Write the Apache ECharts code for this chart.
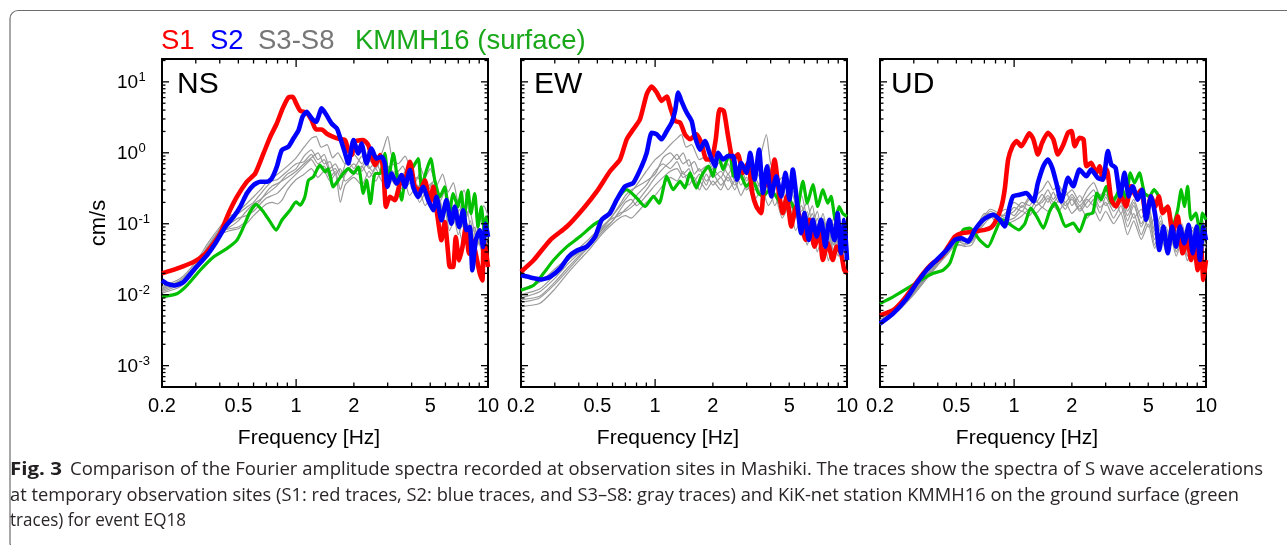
<!DOCTYPE html>
<html>
<head>
<meta charset="utf-8">
<title>Fourier amplitude spectra - Mashiki</title>
<script src="https://cdn.jsdelivr.net/npm/echarts@6/dist/echarts.min.js"></script>
<style>
  html, body { margin: 0; padding: 0; background: #fff; }
  #chart { width: 1287px; height: 545px; }
</style>
</head>
<body>
<div id="chart"></div>
<script>
// Spectra as [frequency (Hz), amplitude (cm/s)]

// ---- NS component ----
const nsS1 = [[0.2,0.02],[0.239,0.0233],[0.292,0.0289],[0.33,0.0359],[0.371,0.0525],[0.402,0.0727],[0.444,0.139],[0.491,0.239],[0.553,0.39],[0.612,0.511],[0.676,0.98],[0.733,1.68],[0.793,2.59],[0.851,4.23],[0.912,6.04],[0.96,6.17],[1.0,4.97],[1.05,3.92],[1.135,3.67],[1.205,2.89],[1.27,2.13],[1.36,2.13],[1.44,1.87],[1.56,1.68],[1.69,1.56],[1.8,1.51],[1.87,1.09],[1.95,0.93],[2.02,1.43],[2.24,1.51],[2.38,1.28],[2.47,0.88],[2.58,0.67],[2.74,0.93],[2.85,0.57],[2.94,0.173],[3.08,0.239],[3.27,0.215],[3.48,0.369],[3.69,0.411],[3.92,0.746],[4.16,0.331],[4.42,0.297],[4.69,0.411],[4.98,0.193],[5.18,0.331],[5.43,0.139],[5.72,0.0585],[5.95,0.106],[6.2,0.0379],[6.32,0.0246],[6.58,0.0246],[6.79,0.0652],[7.07,0.0305],[7.36,0.0471],[7.66,0.0902],[7.96,0.0379],[8.29,0.0585],[8.63,0.0379],[9.06,0.02],[9.35,0.0159],[9.49,0.0585],[9.8,0.0379],[10,0.0246]];
const nsS2 = [[0.2,0.0159],[0.212,0.0143],[0.234,0.0135],[0.259,0.0151],[0.292,0.0221],[0.343,0.0359],[0.379,0.0525],[0.427,0.0902],[0.472,0.125],[0.511,0.173],[0.553,0.267],[0.599,0.35],[0.649,0.39],[0.703,0.39],[0.746,0.434],[0.793,0.634],[0.842,1.09],[0.912,1.22],[0.968,1.59],[1.03,2.09],[1.08,3.22],[1.135,3.79],[1.205,3.05],[1.27,2.74],[1.36,4.23],[1.44,3.4],[1.53,2.59],[1.63,2.21],[1.69,1.68],[1.8,0.98],[1.87,0.707],[1.99,1.51],[2.11,0.98],[2.19,1.35],[2.33,0.707],[2.47,1.15],[2.62,0.83],[2.79,0.88],[2.9,0.707],[2.99,0.331],[3.14,0.511],[3.34,0.369],[3.54,0.484],[3.69,0.331],[3.92,0.57],[4.07,0.331],[4.33,0.239],[4.59,0.331],[4.88,0.215],[5.18,0.155],[5.39,0.239],[5.72,0.112],[6.07,0.215],[6.44,0.1],[6.71,0.173],[7.07,0.0902],[7.42,0.155],[7.72,0.081],[8.04,0.0902],[8.29,0.0221],[8.63,0.0585],[9.06,0.081],[9.42,0.0471],[9.73,0.1],[10,0.0652]];
const nsKMMH16 = [[0.2,0.0093],[0.239,0.0103],[0.27,0.0135],[0.316,0.0221],[0.371,0.034],[0.435,0.0446],[0.491,0.0585],[0.532,0.0902],[0.575,0.147],[0.619,0.188],[0.676,0.147],[0.733,0.106],[0.787,0.081],[0.842,0.112],[0.929,0.155],[1.0,0.203],[1.05,0.183],[1.11,0.239],[1.16,0.411],[1.23,0.458],[1.33,0.67],[1.42,0.54],[1.47,0.6],[1.56,0.331],[1.66,0.411],[1.76,0.511],[1.87,0.6],[1.99,0.511],[2.11,0.634],[2.24,0.267],[2.33,0.411],[2.44,0.193],[2.58,0.511],[2.74,0.511],[2.9,0.98],[3.02,0.411],[3.21,0.98],[3.38,0.411],[3.54,0.215],[3.73,0.458],[4.07,0.634],[4.33,0.83],[4.5,0.331],[4.78,0.57],[5.03,0.83],[5.28,0.411],[5.61,0.239],[5.95,0.331],[6.27,0.125],[6.58,0.267],[6.98,0.173],[7.26,0.281],[7.5,0.112],[7.87,0.297],[8.15,0.139],[8.53,0.267],[8.87,0.0902],[9.23,0.173],[9.61,0.0727],[9.8,0.125],[10,0.0652]];
const nsS3 = [[0.2,0.012],[0.25,0.016],[0.3,0.027],[0.35,0.05],[0.4,0.085],[0.45,0.12],[0.5,0.15],[0.55,0.19],[0.6,0.24],[0.65,0.3],[0.7,0.38],[0.8,0.5],[0.9,0.65],[1.0,0.85],[1.1,1.2],[1.2,1.6],[1.27,1.7],[1.35,1.2],[1.45,1.3],[1.55,0.85],[1.65,1.0],[1.8,0.7],[2.0,0.95],[2.2,0.7],[2.4,1.1],[2.6,0.8],[2.8,1.0],[3.0,1.7],[3.15,0.9],[3.4,0.7],[3.7,0.9],[4.0,0.55],[4.3,0.75],[4.7,0.45],[5.0,0.6],[5.4,0.35],[5.8,0.5],[6.2,0.28],[6.6,0.38],[7.0,0.2],[7.5,0.3],[8.0,0.15],[8.5,0.22],[9.0,0.12],[9.5,0.18],[10,0.13]];
const nsS4 = [[0.2,0.011],[0.25,0.014],[0.3,0.024],[0.35,0.045],[0.4,0.075],[0.45,0.09],[0.5,0.11],[0.55,0.15],[0.6,0.19],[0.65,0.22],[0.7,0.26],[0.75,0.3],[0.8,0.35],[0.9,0.5],[1.0,0.6],[1.1,0.9],[1.2,1.1],[1.3,0.8],[1.4,0.95],[1.5,0.6],[1.6,0.7],[1.75,0.45],[1.9,0.6],[2.1,0.5],[2.3,0.75],[2.5,0.55],[2.7,0.8],[2.9,0.55],[3.2,0.7],[3.5,0.45],[3.8,0.6],[4.1,0.35],[4.4,0.5],[4.8,0.28],[5.2,0.4],[5.6,0.2],[6.0,0.3],[6.5,0.15],[7.0,0.22],[7.5,0.1],[8.0,0.16],[8.6,0.07],[9.2,0.12],[9.6,0.06],[10,0.1]];
const nsS5 = [[0.2,0.0105],[0.25,0.013],[0.3,0.022],[0.35,0.04],[0.4,0.07],[0.45,0.08],[0.5,0.085],[0.55,0.1],[0.6,0.13],[0.65,0.16],[0.7,0.19],[0.75,0.2],[0.8,0.19],[0.85,0.22],[0.9,0.3],[1.0,0.42],[1.1,0.5],[1.2,0.6],[1.3,0.45],[1.4,0.55],[1.5,0.4],[1.6,0.5],[1.7,0.2],[1.8,0.35],[2.0,0.45],[2.2,0.35],[2.4,0.55],[2.6,0.4],[2.8,0.6],[3.0,0.35],[3.3,0.45],[3.6,0.3],[4.0,0.4],[4.4,0.2],[4.8,0.3],[5.2,0.15],[5.6,0.22],[6.0,0.1],[6.5,0.16],[7.0,0.07],[7.5,0.12],[8.0,0.05],[8.5,0.09],[9.0,0.05],[9.5,0.08],[10,0.07]];
const nsS6 = [[0.2,0.013],[0.25,0.017],[0.3,0.029],[0.35,0.055],[0.4,0.09],[0.45,0.13],[0.5,0.14],[0.55,0.17],[0.6,0.2],[0.65,0.26],[0.7,0.33],[0.75,0.4],[0.8,0.42],[0.9,0.55],[1.0,0.7],[1.1,0.75],[1.2,0.95],[1.3,0.7],[1.4,0.8],[1.5,0.55],[1.6,0.6],[1.7,0.45],[1.85,0.8],[2.0,0.6],[2.2,0.9],[2.4,0.6],[2.6,0.75],[2.8,0.5],[3.0,0.65],[3.3,0.5],[3.6,0.65],[3.9,0.4],[4.3,0.45],[4.7,0.3],[5.1,0.38],[5.5,0.22],[5.9,0.3],[6.3,0.13],[6.8,0.2],[7.3,0.09],[7.8,0.15],[8.3,0.06],[8.8,0.1],[9.3,0.05],[9.7,0.09],[10,0.06]];
const nsS7 = [[0.2,0.0115],[0.25,0.015],[0.3,0.025],[0.35,0.048],[0.4,0.08],[0.45,0.1],[0.5,0.12],[0.55,0.13],[0.6,0.15],[0.65,0.19],[0.7,0.23],[0.75,0.25],[0.8,0.27],[0.9,0.38],[1.0,0.5],[1.1,0.65],[1.2,0.8],[1.3,0.6],[1.4,0.65],[1.5,0.45],[1.6,0.55],[1.7,0.3],[1.8,0.5],[2.0,0.7],[2.2,0.55],[2.4,0.8],[2.6,0.6],[2.8,0.85],[3.0,0.45],[3.3,0.55],[3.6,0.4],[3.9,0.5],[4.2,0.3],[4.6,0.4],[5.0,0.22],[5.4,0.3],[5.8,0.15],[6.2,0.22],[6.6,0.1],[7.1,0.16],[7.6,0.07],[8.1,0.11],[8.6,0.04],[9.1,0.08],[9.6,0.045],[10,0.07]];
const nsS8 = [[0.2,0.0125],[0.25,0.016],[0.3,0.026],[0.35,0.05],[0.4,0.078],[0.45,0.085],[0.5,0.09],[0.55,0.11],[0.6,0.17],[0.65,0.21],[0.7,0.28],[0.75,0.34],[0.8,0.37],[0.9,0.45],[1.0,0.55],[1.1,0.7],[1.2,0.85],[1.3,1.0],[1.4,0.7],[1.5,0.75],[1.6,0.5],[1.7,0.6],[1.8,0.4],[2.0,0.5],[2.2,0.65],[2.4,0.45],[2.6,0.6],[2.8,0.4],[3.0,0.5],[3.3,0.35],[3.6,0.5],[3.9,0.25],[4.3,0.35],[4.7,0.18],[5.1,0.25],[5.5,0.12],[5.9,0.18],[6.3,0.08],[6.8,0.13],[7.3,0.06],[7.8,0.1],[8.3,0.035],[8.8,0.07],[9.3,0.04],[9.7,0.06],[10,0.05]];

// ---- EW component ----
const ewS1 = [[0.2,0.021],[0.233,0.0308],[0.284,0.059],[0.347,0.0914],[0.424,0.166],[0.497,0.286],[0.582,0.55],[0.656,0.805],[0.711,1.55],[0.769,2.14],[0.834,2.97],[0.904,6.71],[0.96,8.61],[1.02,7.08],[1.08,5.4],[1.15,6.22],[1.2,4.34],[1.27,2.81],[1.35,2.66],[1.43,1.82],[1.52,1.55],[1.64,1.82],[1.74,1.39],[1.85,0.805],[1.96,0.805],[2.07,1.55],[2.17,4.11],[2.28,3.89],[2.4,1.72],[2.55,0.805],[2.7,0.95],[2.87,0.521],[3.05,0.721],[3.21,0.271],[3.37,0.175],[3.57,0.141],[3.72,0.376],[3.95,0.337],[4.19,0.805],[4.42,0.271],[4.63,0.141],[4.86,0.243],[5.12,0.0914],[5.44,0.175],[5.77,0.102],[6.08,0.059],[6.37,0.114],[6.76,0.0476],[7.18,0.0737],[7.48,0.0308],[7.94,0.053],[8.43,0.0308],[8.83,0.0476],[9.31,0.0384],[9.68,0.0222],[10,0.02]];
const ewS2 = [[0.2,0.0189],[0.224,0.0175],[0.257,0.0164],[0.284,0.0179],[0.32,0.0235],[0.354,0.0343],[0.391,0.0418],[0.441,0.0476],[0.487,0.0659],[0.527,0.114],[0.582,0.141],[0.631,0.218],[0.697,0.337],[0.769,0.376],[0.851,0.647],[0.904,1.0],[0.96,1.92],[1.02,1.82],[1.08,1.55],[1.15,2.03],[1.22,2.66],[1.27,3.89],[1.32,7.08],[1.37,5.4],[1.46,3.69],[1.55,2.81],[1.61,1.72],[1.71,1.11],[1.82,1.46],[1.93,0.95],[2.05,0.647],[2.13,1.0],[2.26,0.805],[2.4,0.897],[2.55,0.897],[2.67,0.419],[2.81,0.721],[2.99,0.521],[3.13,1.0],[3.3,0.419],[3.48,1.11],[3.65,0.271],[3.83,0.647],[4.03,0.243],[4.28,0.467],[4.54,0.243],[4.78,0.521],[5.01,0.218],[5.22,0.58],[5.47,0.218],[5.77,0.0737],[6.0,0.141],[6.32,0.059],[6.64,0.114],[6.95,0.0659],[7.33,0.114],[7.71,0.0476],[8.09,0.114],[8.59,0.059],[8.93,0.141],[9.31,0.0384],[9.68,0.114],[10,0.0308]];
const ewKMMH16 = [[0.2,0.0116],[0.233,0.0136],[0.262,0.02],[0.296,0.0308],[0.347,0.0476],[0.406,0.0659],[0.477,0.0964],[0.56,0.127],[0.631,0.218],[0.711,0.302],[0.802,0.23],[0.886,0.175],[0.98,0.243],[1.05,0.195],[1.15,0.467],[1.24,0.302],[1.35,0.397],[1.43,0.319],[1.52,0.521],[1.64,0.319],[1.74,0.467],[1.9,0.647],[2.0,0.467],[2.13,0.947],[2.26,0.58],[2.45,1.0],[2.57,0.467],[2.75,0.521],[2.99,0.337],[3.21,0.419],[3.45,0.271],[3.65,0.243],[3.95,0.302],[4.28,0.243],[4.63,0.175],[5.01,0.218],[5.44,0.141],[5.89,0.397],[6.21,0.195],[6.64,0.356],[7.04,0.175],[7.48,0.302],[7.94,0.195],[8.26,0.243],[8.69,0.114],[9.1,0.175],[9.48,0.141],[10,0.127]];
const ewS3 = [[0.2,0.012],[0.25,0.015],[0.3,0.023],[0.35,0.033],[0.4,0.045],[0.45,0.06],[0.5,0.08],[0.55,0.1],[0.6,0.13],[0.65,0.17],[0.7,0.22],[0.75,0.28],[0.8,0.35],[0.9,0.55],[1.0,0.8],[1.1,1.0],[1.2,1.3],[1.3,1.6],[1.37,1.8],[1.45,1.2],[1.55,1.3],[1.7,0.8],[1.85,0.9],[2.0,0.6],[2.2,0.75],[2.4,0.5],[2.6,0.7],[2.8,0.45],[3.0,0.6],[3.2,0.4],[3.5,0.8],[3.8,1.8],[4.0,0.7],[4.3,0.5],[4.6,0.3],[5.0,0.35],[5.4,0.2],[5.8,0.25],[6.2,0.12],[6.6,0.18],[7.0,0.08],[7.5,0.14],[8.0,0.06],[8.5,0.12],[9.0,0.05],[9.5,0.1],[10,0.07]];
const ewS4 = [[0.2,0.0085],[0.25,0.0095],[0.3,0.015],[0.35,0.024],[0.4,0.035],[0.45,0.05],[0.5,0.07],[0.55,0.09],[0.6,0.11],[0.65,0.14],[0.7,0.15],[0.75,0.17],[0.8,0.2],[0.9,0.3],[1.0,0.45],[1.1,0.6],[1.2,0.75],[1.3,0.95],[1.4,0.7],[1.5,0.8],[1.6,0.5],[1.7,0.6],[1.85,0.4],[2.0,0.5],[2.2,0.35],[2.4,0.45],[2.6,0.3],[2.8,0.5],[3.0,0.3],[3.3,0.45],[3.6,0.3],[3.9,0.5],[4.2,0.25],[4.6,0.35],[5.0,0.15],[5.4,0.22],[5.8,0.07],[6.2,0.12],[6.6,0.05],[7.0,0.1],[7.5,0.04],[8.0,0.08],[8.5,0.035],[9.0,0.07],[9.5,0.04],[10,0.06]];
const ewS5 = [[0.2,0.0068],[0.25,0.0075],[0.3,0.012],[0.35,0.02],[0.4,0.03],[0.45,0.042],[0.5,0.06],[0.55,0.08],[0.6,0.1],[0.65,0.12],[0.7,0.13],[0.75,0.12],[0.8,0.14],[0.9,0.2],[1.0,0.25],[1.1,0.35],[1.2,0.45],[1.3,0.4],[1.4,0.55],[1.5,0.35],[1.6,0.45],[1.7,0.3],[1.85,0.5],[2.0,0.35],[2.2,0.45],[2.4,0.3],[2.6,0.4],[2.8,0.25],[3.0,0.35],[3.3,0.22],[3.6,0.3],[3.9,0.18],[4.2,0.25],[4.6,0.12],[5.0,0.18],[5.4,0.08],[5.8,0.12],[6.2,0.05],[6.6,0.09],[7.0,0.04],[7.5,0.07],[8.0,0.03],[8.5,0.06],[9.0,0.035],[9.5,0.05],[10,0.04]];
const ewS6 = [[0.2,0.01],[0.25,0.012],[0.3,0.019],[0.35,0.03],[0.4,0.04],[0.45,0.055],[0.5,0.075],[0.55,0.1],[0.6,0.12],[0.65,0.13],[0.7,0.16],[0.75,0.19],[0.8,0.25],[0.9,0.35],[1.0,0.55],[1.1,0.7],[1.2,0.6],[1.3,0.75],[1.4,0.5],[1.5,0.6],[1.6,0.4],[1.7,0.5],[1.85,0.35],[2.0,0.6],[2.2,0.45],[2.4,0.7],[2.6,0.4],[2.8,0.6],[3.0,0.4],[3.3,0.6],[3.6,0.4],[3.9,0.7],[4.2,0.35],[4.6,0.45],[5.0,0.25],[5.4,0.3],[5.8,0.15],[6.2,0.2],[6.6,0.1],[7.0,0.15],[7.5,0.06],[8.0,0.12],[8.5,0.05],[9.0,0.1],[9.5,0.06],[10,0.08]];
const ewS7 = [[0.2,0.009],[0.25,0.011],[0.3,0.017],[0.35,0.027],[0.4,0.038],[0.45,0.052],[0.5,0.072],[0.55,0.095],[0.6,0.13],[0.65,0.18],[0.7,0.25],[0.75,0.3],[0.8,0.33],[0.9,0.4],[1.0,0.5],[1.1,0.85],[1.2,1.0],[1.3,0.8],[1.4,1.0],[1.5,0.65],[1.6,0.75],[1.7,0.55],[1.85,0.65],[2.0,0.45],[2.2,0.55],[2.4,0.4],[2.6,0.55],[2.8,0.35],[3.0,0.45],[3.3,0.3],[3.6,0.4],[3.9,0.3],[4.2,0.4],[4.6,0.2],[5.0,0.28],[5.4,0.12],[5.8,0.18],[6.2,0.1],[6.6,0.14],[7.0,0.07],[7.5,0.12],[8.0,0.05],[8.5,0.1],[9.0,0.06],[9.5,0.09],[10,0.05]];
const ewS8 = [[0.2,0.0078],[0.25,0.009],[0.3,0.014],[0.35,0.022],[0.4,0.033],[0.45,0.047],[0.5,0.065],[0.55,0.085],[0.6,0.11],[0.65,0.15],[0.7,0.2],[0.75,0.22],[0.8,0.18],[0.9,0.25],[1.0,0.35],[1.1,0.45],[1.2,0.55],[1.3,0.6],[1.4,0.45],[1.5,0.5],[1.6,0.35],[1.7,0.4],[1.85,0.3],[2.0,0.4],[2.2,0.3],[2.4,0.5],[2.6,0.35],[2.8,0.45],[3.0,0.3],[3.3,0.4],[3.6,0.25],[3.9,0.35],[4.2,0.18],[4.6,0.28],[5.0,0.12],[5.4,0.2],[5.8,0.1],[6.2,0.15],[6.6,0.07],[7.0,0.12],[7.5,0.05],[8.0,0.09],[8.5,0.04],[9.0,0.08],[9.5,0.05],[10,0.06]];

// ---- UD component ----
const udS1 = [[0.2,0.00512],[0.234,0.00603],[0.264,0.00835],[0.298,0.0129],[0.336,0.02],[0.371,0.027],[0.418,0.0344],[0.453,0.0476],[0.491,0.0659],[0.532,0.0735],[0.611,0.0776],[0.703,0.082],[0.762,0.0894],[0.809,0.114],[0.859,0.175],[0.893,0.302],[0.931,0.805],[0.98,1.24],[1.03,1.46],[1.09,1.24],[1.16,1.63],[1.2,1.88],[1.26,1.55],[1.33,0.947],[1.4,1.39],[1.5,1.92],[1.6,1.55],[1.69,0.947],[1.8,1.28],[1.91,1.92],[1.99,2.03],[2.07,1.24],[2.19,1.63],[2.3,1.55],[2.38,0.647],[2.52,0.721],[2.68,0.521],[2.79,0.647],[2.9,0.419],[3.04,0.58],[3.21,0.218],[3.4,0.175],[3.61,0.243],[3.83,0.175],[4.07,0.337],[4.32,0.243],[4.59,0.302],[4.87,0.127],[5.17,0.243],[5.45,0.175],[5.67,0.243],[5.95,0.141],[6.32,0.175],[6.7,0.0737],[7.12,0.127],[7.56,0.0383],[8.02,0.059],[8.35,0.0308],[8.69,0.0476],[9.05,0.0222],[9.42,0.0476],[9.69,0.0161],[10,0.0308]];
const udS2 = [[0.2,0.0039],[0.234,0.0054],[0.275,0.0088],[0.31,0.0144],[0.35,0.0222],[0.394,0.0308],[0.445,0.0427],[0.491,0.059],[0.532,0.0625],[0.575,0.056],[0.624,0.082],[0.69,0.114],[0.777,0.134],[0.841,0.114],[0.893,0.0914],[0.948,0.175],[0.986,0.243],[1.07,0.257],[1.16,0.271],[1.26,0.207],[1.33,0.376],[1.42,0.647],[1.5,0.805],[1.58,0.613],[1.66,0.376],[1.76,0.207],[1.91,0.443],[2.03,0.337],[2.19,0.58],[2.38,0.467],[2.52,0.58],[2.73,0.443],[2.9,0.419],[3.08,1.06],[3.21,0.684],[3.38,0.613],[3.57,0.243],[3.76,0.521],[3.96,0.243],[4.15,0.337],[4.41,0.218],[4.65,0.302],[4.87,0.114],[5.17,0.243],[5.45,0.127],[5.71,0.0427],[6.0,0.0914],[6.32,0.0383],[6.66,0.0914],[6.98,0.0476],[7.32,0.0914],[7.71,0.053],[8.12,0.0964],[8.53,0.0383],[8.94,0.0914],[9.3,0.0308],[9.69,0.0914],[10,0.059]];
const udKMMH16 = [[0.2,0.0075],[0.234,0.0093],[0.286,0.0129],[0.336,0.0169],[0.379,0.02],[0.427,0.0222],[0.462,0.0277],[0.495,0.0476],[0.542,0.082],[0.587,0.0865],[0.662,0.059],[0.731,0.0476],[0.792,0.0737],[0.859,0.114],[0.907,0.108],[0.986,0.0914],[1.06,0.082],[1.14,0.102],[1.22,0.166],[1.31,0.127],[1.42,0.0865],[1.53,0.149],[1.63,0.195],[1.73,0.141],[1.85,0.0914],[2.03,0.102],[2.19,0.0776],[2.38,0.134],[2.57,0.141],[2.7,0.271],[2.84,0.218],[3.02,0.337],[3.21,0.195],[3.4,0.243],[3.61,0.337],[3.83,0.218],[4.03,0.521],[4.24,0.376],[4.5,0.521],[4.78,0.271],[5.07,0.243],[5.36,0.302],[5.67,0.243],[5.93,0.157],[6.32,0.175],[6.7,0.0914],[7.12,0.157],[7.43,0.302],[7.71,0.175],[8.02,0.337],[8.35,0.114],[8.85,0.141],[9.3,0.0737],[9.59,0.141],[10,0.114]];
const udS3 = [[0.2,0.0042],[0.25,0.0065],[0.3,0.011],[0.35,0.018],[0.4,0.028],[0.45,0.04],[0.5,0.055],[0.55,0.06],[0.6,0.058],[0.65,0.085],[0.7,0.12],[0.75,0.15],[0.8,0.14],[0.9,0.13],[1.0,0.15],[1.1,0.2],[1.2,0.18],[1.3,0.25],[1.4,0.3],[1.5,0.4],[1.6,0.3],[1.7,0.35],[1.85,0.25],[2.0,0.3],[2.2,0.2],[2.4,0.3],[2.6,0.38],[2.8,0.25],[3.0,0.3],[3.3,0.2],[3.6,0.28],[3.9,0.15],[4.2,0.22],[4.6,0.12],[5.0,0.18],[5.4,0.08],[5.8,0.13],[6.2,0.06],[6.6,0.1],[7.0,0.05],[7.5,0.09],[8.0,0.045],[8.5,0.08],[9.0,0.05],[9.5,0.12],[10,0.08]];
const udS4 = [[0.2,0.0038],[0.25,0.006],[0.3,0.01],[0.35,0.017],[0.4,0.027],[0.45,0.038],[0.5,0.05],[0.55,0.05],[0.6,0.055],[0.65,0.08],[0.7,0.11],[0.75,0.13],[0.8,0.12],[0.9,0.11],[1.0,0.12],[1.1,0.15],[1.2,0.13],[1.3,0.18],[1.4,0.2],[1.5,0.25],[1.6,0.2],[1.7,0.24],[1.85,0.18],[2.0,0.22],[2.2,0.15],[2.4,0.2],[2.6,0.25],[2.8,0.17],[3.0,0.2],[3.3,0.12],[3.6,0.18],[3.9,0.09],[4.2,0.14],[4.6,0.07],[5.0,0.12],[5.4,0.06],[5.8,0.1],[6.2,0.045],[6.6,0.08],[7.0,0.04],[7.5,0.07],[8.0,0.035],[8.5,0.06],[9.0,0.04],[9.5,0.07],[10,0.05]];
const udS5 = [[0.2,0.004],[0.25,0.0062],[0.3,0.0105],[0.35,0.0175],[0.4,0.029],[0.45,0.042],[0.5,0.058],[0.55,0.052],[0.6,0.062],[0.65,0.09],[0.7,0.13],[0.75,0.16],[0.8,0.15],[0.9,0.12],[1.0,0.17],[1.1,0.15],[1.2,0.22],[1.3,0.2],[1.4,0.26],[1.5,0.2],[1.6,0.28],[1.7,0.2],[1.85,0.3],[2.0,0.18],[2.2,0.25],[2.4,0.17],[2.6,0.22],[2.8,0.14],[3.0,0.24],[3.3,0.15],[3.6,0.2],[3.9,0.11],[4.2,0.18],[4.6,0.1],[5.0,0.15],[5.4,0.07],[5.8,0.11],[6.2,0.05],[6.6,0.09],[7.0,0.06],[7.5,0.1],[8.0,0.05],[8.5,0.09],[9.0,0.06],[9.5,0.1],[10,0.07]];
const udS6 = [[0.2,0.0044],[0.25,0.0068],[0.3,0.0115],[0.35,0.019],[0.4,0.03],[0.45,0.045],[0.5,0.06],[0.55,0.056],[0.6,0.07],[0.65,0.1],[0.7,0.14],[0.75,0.13],[0.8,0.11],[0.9,0.14],[1.0,0.2],[1.1,0.17],[1.2,0.24],[1.3,0.18],[1.4,0.22],[1.5,0.3],[1.6,0.22],[1.7,0.27],[1.85,0.2],[2.0,0.26],[2.2,0.18],[2.4,0.24],[2.6,0.3],[2.8,0.2],[3.0,0.26],[3.3,0.17],[3.6,0.22],[3.9,0.13],[4.2,0.2],[4.6,0.09],[5.0,0.14],[5.4,0.05],[5.8,0.09],[6.2,0.05],[6.6,0.08],[7.0,0.045],[7.5,0.08],[8.0,0.04],[8.5,0.07],[9.0,0.045],[9.5,0.09],[10,0.06]];
const udS7 = [[0.2,0.0039],[0.25,0.0061],[0.3,0.0102],[0.35,0.0168],[0.4,0.026],[0.45,0.037],[0.5,0.052],[0.55,0.048],[0.6,0.05],[0.65,0.075],[0.7,0.1],[0.75,0.12],[0.8,0.13],[0.9,0.1],[1.0,0.11],[1.1,0.13],[1.2,0.16],[1.3,0.14],[1.4,0.17],[1.5,0.15],[1.6,0.18],[1.7,0.15],[1.85,0.2],[2.0,0.14],[2.2,0.18],[2.4,0.12],[2.6,0.16],[2.8,0.11],[3.0,0.15],[3.3,0.1],[3.6,0.14],[3.9,0.07],[4.2,0.11],[4.6,0.06],[5.0,0.1],[5.4,0.045],[5.8,0.07],[6.2,0.04],[6.6,0.06],[7.0,0.035],[7.5,0.06],[8.0,0.03],[8.5,0.05],[9.0,0.035],[9.5,0.06],[10,0.045]];
const udS8 = [[0.2,0.0041],[0.25,0.0064],[0.3,0.0108],[0.35,0.018],[0.4,0.027],[0.45,0.039],[0.5,0.054],[0.55,0.058],[0.6,0.065],[0.65,0.095],[0.7,0.13],[0.75,0.14],[0.8,0.13],[0.9,0.16],[1.0,0.13],[1.1,0.18],[1.2,0.15],[1.3,0.21],[1.4,0.17],[1.5,0.23],[1.6,0.17],[1.7,0.21],[1.85,0.16],[2.0,0.24],[2.2,0.16],[2.4,0.22],[2.6,0.18],[2.8,0.26],[3.0,0.18],[3.3,0.24],[3.6,0.14],[3.9,0.2],[4.2,0.12],[4.6,0.16],[5.0,0.09],[5.4,0.12],[5.8,0.06],[6.2,0.09],[6.6,0.05],[7.0,0.08],[7.5,0.045],[8.0,0.07],[8.5,0.04],[9.0,0.08],[9.5,0.05],[10,0.09]];

// ---- axes ----
const FREQ_MIN = 0.2, FREQ_MAX = 10;
const AMP_MIN = 0.0005, AMP_MAX = 21;
const freqLabels = [0.2, 0.5, 1, 2, 5, 10];
const freqTicks = [0.3, 0.4, 0.5, 0.6, 0.7, 0.8, 0.9, 2, 3, 4, 5, 6, 7, 8, 9];
const ampExponents = [-3, -2, -1, 0, 1];
const componentNames = ['NS', 'EW', 'UD'];
const legendItems = ['S1', 'S2', 'S3-S8', 'KMMH16 (surface)'];

const panels = [
  { s1: nsS1, s2: nsS2, surface: nsKMMH16, others: [nsS3, nsS4, nsS5, nsS6, nsS7, nsS8] },
  { s1: ewS1, s2: ewS2, surface: ewKMMH16, others: [ewS3, ewS4, ewS5, ewS6, ewS7, ewS8] },
  { s1: udS1, s2: udS2, surface: udKMMH16, others: [udS3, udS4, udS5, udS6, udS7, udS8] }
];

const FONT = '"Liberation Sans", Arial, Helvetica, sans-serif';
const RED = '#ff0000', BLUE = '#0000ff', GREEN = '#00c000', GRAY = '#9a9a9a';
const gridLefts = [162, 521, 880];
const GRID_TOP = 59, GRID_W = 326, GRID_H = 328;

// tick marks and tick labels: [x, y, kind]
// kind 0/1: frequency minor/major tick, 2/3: amplitude minor/major tick,
// 4: frequency label, 5: power-of-ten label
function axisMarks(withAmpLabels) {
  const d = [];
  freqTicks.forEach(f => d.push([f, AMP_MIN, 0]));
  d.push([1, AMP_MIN, 1]);
  for (let e = -4; e <= 1; e++) {
    for (let m = 1; m <= 9; m++) {
      const v = m * Math.pow(10, e);
      if (v > AMP_MIN * 1.001 && v < AMP_MAX) d.push([FREQ_MIN, v, m === 1 ? 3 : 2]);
    }
  }
  freqLabels.forEach(f => d.push([f, AMP_MIN, 4]));
  if (withAmpLabels) ampExponents.forEach(e => d.push([FREQ_MIN, Math.pow(10, e), 5]));
  return d;
}

function tickRect(x, y, w, h) {
  return { type: 'rect', shape: { x: x, y: y, width: w, height: h }, style: { fill: '#000', stroke: null } };
}

function renderAxisMarks(params, api) {
  const cs = params.coordSys;
  const kind = api.value(2);
  const p = api.coord([api.value(0), api.value(1)]);
  const L = cs.x, R = cs.x + cs.width, T = cs.y, B = cs.y + cs.height;
  const lw = 1.3;
  if (kind === 0 || kind === 1) {
    const len = kind === 1 ? 8 : 4.5;
    return { type: 'group', children: [
      tickRect(p[0] - lw / 2, B - len, lw, len),
      tickRect(p[0] - lw / 2, T, lw, len)
    ]};
  }
  if (kind === 2 || kind === 3) {
    const len = kind === 3 ? 7 : 3.5;
    return { type: 'group', children: [
      tickRect(L, p[1] - lw / 2, len, lw),
      tickRect(R - len, p[1] - lw / 2, len, lw)
    ]};
  }
  if (kind === 4) {
    return { type: 'text', style: {
      text: String(api.value(0)), x: p[0], y: B + 19, align: 'center', verticalAlign: 'middle',
      font: '20px ' + FONT, fill: '#000' } };
  }
  if (kind === 5) {
    const e = Math.round(Math.log10(api.value(1)));
    return { type: 'group', children: [
      { type: 'text', style: { text: '10', x: L - 45, y: p[1] + 1, align: 'left', verticalAlign: 'middle',
        font: '19px ' + FONT, fill: '#000' } },
      { type: 'text', style: { text: String(e), x: L - 23.5, y: p[1] - 4, align: 'left', verticalAlign: 'middle',
        font: '13px ' + FONT, fill: '#000' } }
    ]};
  }
  return null;
}

const series = [];
panels.forEach((pn, i) => {
  const base = { type: 'line', xAxisIndex: i, yAxisIndex: i, symbol: 'none', showSymbol: false,
    smooth: 0.2, silent: true, animation: false };
  pn.others.forEach((d, k) => series.push(Object.assign({}, base, {
    name: 'S' + (k + 3), data: d, z: 2, lineStyle: { color: GRAY, width: 1.2 } })));
  series.push(Object.assign({}, base, { name: 'KMMH16', data: pn.surface, z: 3,
    lineStyle: { color: GREEN, width: 3.2, join: 'round' } }));
  series.push(Object.assign({}, base, { name: 'S1', data: pn.s1, z: 4,
    lineStyle: { color: RED, width: 4.6, join: 'round' } }));
  series.push(Object.assign({}, base, { name: 'S2', data: pn.s2, z: 5,
    lineStyle: { color: BLUE, width: 4.6, join: 'round' } }));
  series.push({ type: 'custom', xAxisIndex: i, yAxisIndex: i, data: axisMarks(i === 0), renderItem: renderAxisMarks,
    clip: false, silent: true, z: 10, animation: false });
});

const hidden = { axisLine: { show: false }, axisTick: { show: false }, axisLabel: { show: false }, splitLine: { show: false } };

// caption text is fitted to its line width
const measureCtx = document.createElement('canvas').getContext('2d');
function fitScale(text, font, width) {
  measureCtx.font = font;
  return width / measureCtx.measureText(text).width;
}
const CAP_FONT = '18px "Open Sans", "Noto Sans", sans-serif';
const CAP_BOLD = 'bold 18px "Open Sans", "Noto Sans", sans-serif';
const captionLines = [
  { x: 70, y: 470, w: 1193, text: 'Comparison of the Fourier amplitude spectra recorded at observation sites in Mashiki. The traces show the spectra of S wave accelerations' },
  { x: 10, y: 496, w: 1229, text: 'at temporary observation sites (S1: red traces, S2: blue traces, and S3–S8: gray traces) and KiK-net station KMMH16 on the ground surface (green' },
  { x: 10, y: 521, w: 176, text: 'traces) for event EQ18' }
];

const graphics = [
  { type: 'rect', shape: { x: 10, y: 10.5, width: 1300, height: 540, r: 8 }, silent: true,
    style: { fill: 'none', stroke: '#6e6e6e', lineWidth: 1.2 } },
  { type: 'text', x: 10, y: 470, scaleX: fitScale('Fig. 3', CAP_BOLD, 52), silent: true,
    style: { text: 'Fig. 3', font: CAP_BOLD, fill: '#231f20', verticalAlign: 'middle' } }
];
captionLines.forEach(c => graphics.push({ type: 'text', x: c.x, y: c.y, scaleX: fitScale(c.text, CAP_FONT, c.w), silent: true,
  style: { text: c.text, font: CAP_FONT, fill: '#2a2627', verticalAlign: 'middle' } }));

const legendX = [161, 210, 258, 355];
const legendColors = [RED, BLUE, '#777777', '#19a819'];
legendItems.forEach((t, k) => graphics.push({ type: 'text', x: legendX[k], y: 41, silent: true,
  style: { text: t, font: '27.5px ' + FONT, fill: legendColors[k], verticalAlign: 'middle' } }));

const titleX = [177, 534, 891];
componentNames.forEach((t, k) => graphics.push({ type: 'text', x: titleX[k], y: 85, silent: true, z: 20,
  style: { text: t, font: '30px ' + FONT, fill: '#000', verticalAlign: 'middle' } }));

const option = {
  animation: false,
  backgroundColor: '#ffffff',
  grid: gridLefts.map(l => ({ left: l, top: GRID_TOP, width: GRID_W, height: GRID_H, show: true,
    borderColor: '#000', borderWidth: 2, backgroundColor: 'rgba(0,0,0,0)', containLabel: false, outerBoundsMode: 'none' })),
  xAxis: gridLefts.map((l, i) => Object.assign({ type: 'log', logBase: 10, gridIndex: i, min: FREQ_MIN, max: FREQ_MAX,
    name: 'Frequency [Hz]', nameLocation: 'middle', nameGap: 41,
    nameTextStyle: { fontSize: 21, color: '#000', fontFamily: FONT, padding: [0, 32, 0, 0] } }, hidden)),
  yAxis: gridLefts.map((l, i) => Object.assign({ type: 'log', logBase: 10, gridIndex: i, min: AMP_MIN, max: AMP_MAX,
    name: i === 0 ? 'cm/s' : '', nameLocation: 'middle', nameRotate: 90, nameGap: 52,
    nameTextStyle: { fontSize: 22, color: '#000', fontFamily: FONT } }, hidden)),
  series: series,
  graphic: graphics
};

const chart = echarts.init(document.getElementById('chart'), null, { renderer: 'canvas' });
chart.setOption(option);
</script>
</body>
</html>
